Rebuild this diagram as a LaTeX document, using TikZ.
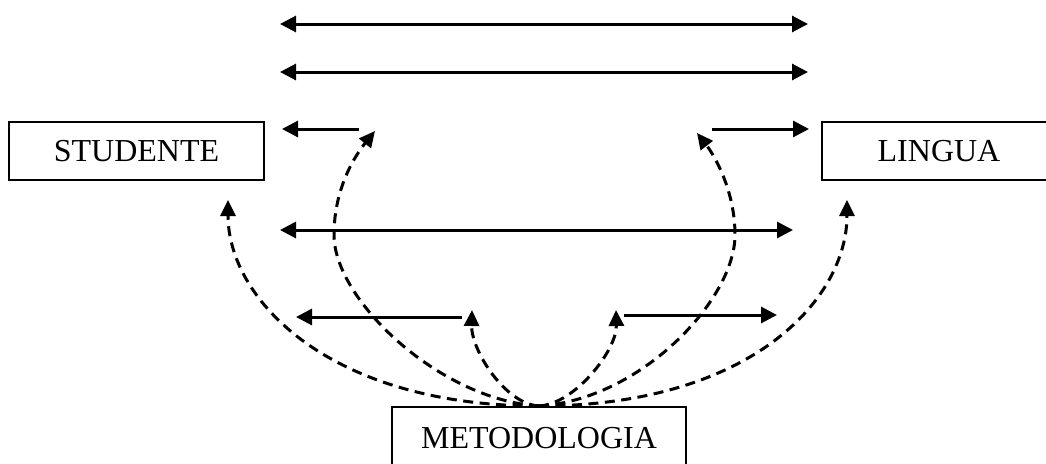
\documentclass[tikz,border=0pt]{standalone}
\usepackage{fontspec}
\setmainfont{Liberation Serif}
\usetikzlibrary{arrows.meta}

\begin{document}
\begin{tikzpicture}[x=1pt,y=-1pt,
  box/.style={draw,line width=2pt,inner sep=0pt,
    font=\fontsize{32}{38}\selectfont},
  link/.style={line width=3pt,{Triangle[length=16pt,width=16pt]}-{Triangle[length=16pt,width=16pt]}},
  oneway/.style={line width=3pt,-{Triangle[length=16pt,width=16pt]}},
  influence/.style={line width=3pt,dash pattern=on 10pt off 6.5pt,
    -{Triangle[length=16pt,width=15pt]}}]
\useasboundingbox (0,0) rectangle (1046,463);

% the three actors
\node[box,minimum width=255pt,minimum height=58pt] (S) at (136.5,151) {STUDENTE};
\node[box,minimum width=234pt,minimum height=58pt] (L) at (939,151) {LINGUA};
\node[box,minimum width=294pt,minimum height=63pt] (M) at (539,438.5) {METODOLOGIA};

% end points of the relations
\coordinate (r1a) at (280,24);  \coordinate (r1b) at (808,24);
\coordinate (r2a) at (280,72);  \coordinate (r2b) at (808,72);
\coordinate (sl0) at (359,129); \coordinate (sl1) at (282,129);
\coordinate (sr0) at (712,129); \coordinate (sr1) at (809,129);
\coordinate (r3a) at (280,230); \coordinate (r3b) at (793,230);
\coordinate (ll0) at (462,317); \coordinate (ll1) at (296,317);
\coordinate (lr0) at (624,315); \coordinate (lr1) at (777,315);

% tips of the dashed influences
\coordinate (dS)  at (228,200);
\coordinate (dSL) at (375,131);
\coordinate (dLL) at (472,310);
\coordinate (dLR) at (616,310);
\coordinate (dLU) at (697,133);
\coordinate (dL)  at (847,200);

% solid relations
\draw[link] (r1a) -- (r1b);
\draw[link] (r2a) -- (r2b);
\draw[oneway] (sl0) -- (sl1);
\draw[oneway] (sr0) -- (sr1);
\draw[link] (r3a) -- (r3b);
\draw[oneway] (ll0) -- (ll1);
\draw[oneway] (lr0) -- (lr1);

% dashed influences of the method
\draw[influence] (M.north) .. controls (330,406) and (228,300) .. (dS);
\draw[influence] (M.north) .. controls (440,400) and (334,300) .. (334,235)
                 .. controls (334,185) and (358,152) .. (dSL);
\draw[influence] (M.north) .. controls (505,404) and (471,350) .. (dLL);
\draw[influence] (M.north) .. controls (575,404) and (617,350) .. (dLR);
\draw[influence] (M.north) .. controls (640,400) and (735,300) .. (735,235)
                 .. controls (735,190) and (714,155) .. (dLU);
\draw[influence] (M.north) .. controls (750,406) and (847,300) .. (dL);
\end{tikzpicture}
\end{document}
